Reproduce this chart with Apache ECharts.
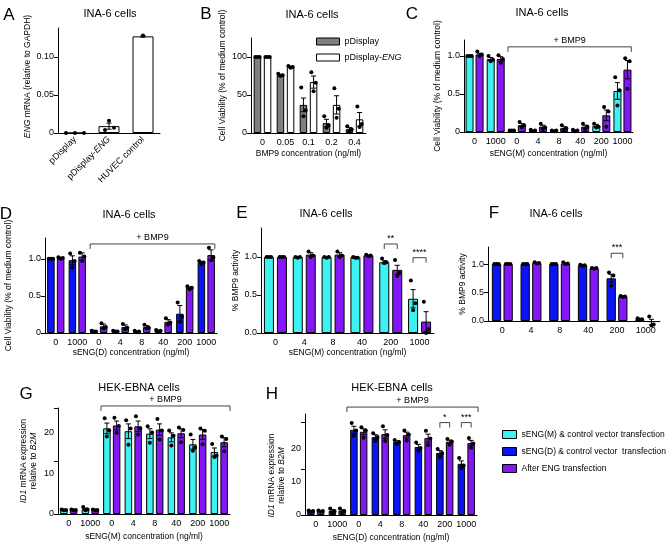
<!DOCTYPE html>
<html><head><meta charset="utf-8">
<script src="https://cdn.jsdelivr.net/npm/echarts@6/dist/echarts.min.js"></script>
<style>html,body{margin:0;padding:0;background:#fff}#c{width:668px;height:545px}</style>
</head><body><div id="c"></div>
<script>
// ---------------- DATA ----------------
// Panel A
const aCats = ['pDisplay', 'pDisplay-ENG', 'HUVEC control'];
const aMean = [0, 0.009, 0.127];
const aErr = [0, 0.004, 0.001];
const aDots = [[0, 0, 0], [0.016, 0.004, 0.007], [0.128]];
const aTicks = [0, 0.05, 0.10];
const aTickLabels = ['0', '0.05', '0.10'];
// Panel B
const bCats = ['0', '0.05', '0.1', '0.2', '0.4'];
const bPD = [100, 76, 37, 13, 5];
const bPDErr = [0.5, 1.2, 9, 5, 2];
const bPDDots = [[100, 100, 100], [78, 76, 75], [60, 30, 22], [22, 10, 7], [9, 5, 2]];
const bENG = [100, 87, 67, 37, 18];
const bENGErr = [0.5, 1, 8, 12, 9];
const bENGDots = [[100, 100, 100], [88, 87, 86], [80, 66, 55], [59, 32, 20], [35, 12, 8]];
const bTicks = [0, 50, 100];
const bTickLabels = ['0', '50', '100'];
// Panel C
const cCats = ['0', '1000', '0', '4', '8', '40', '200', '1000'];
const cCyan = [1.0, 0.96, 0.02, 0.02, 0.02, 0.02, 0.08, 0.54];
const cCyanErr = [0.005, 0.02, 0.005, 0.005, 0.005, 0.005, 0.02, 0.11];
const cCyanDots = [[1, 1, 1], [1.0, 0.95, 0.93], [0.02, 0.02, 0.02], [0.03, 0.02, 0.01], [0.02, 0.02, 0.01], [0.03, 0.02, 0.01], [0.11, 0.07, 0.06], [0.72, 0.55, 0.35]];
const cPurple = [1.02, 0.96, 0.09, 0.07, 0.05, 0.07, 0.22, 0.82];
const cPurpleErr = [0.015, 0.03, 0.02, 0.02, 0.02, 0.02, 0.07, 0.12];
const cPurpleDots = [[1.06, 1.02, 1.0], [1.01, 0.96, 0.91], [0.13, 0.09, 0.06], [0.11, 0.06, 0.04], [0.09, 0.05, 0.03], [0.11, 0.07, 0.04], [0.33, 0.27, 0.07], [0.97, 0.93, 0.57]];
const vTicks = [0, 0.5, 1.0];
const vTickLabels = ['0', '0.5', '1.0'];
// Panel D
const dCats = ['0', '1000', '0', '4', '8', '40', '200', '1000'];
const dBlue = [1.0, 0.98, 0.02, 0.02, 0.02, 0.03, 0.26, 0.95];
const dBlueErr = [0.005, 0.06, 0.005, 0.005, 0.005, 0.005, 0.11, 0.015];
const dBlueDots = [[1, 1, 1], [1.07, 0.97, 0.88], [0.03, 0.02, 0.02], [0.03, 0.02, 0.02], [0.03, 0.02, 0.01], [0.04, 0.03, 0.02], [0.41, 0.22, 0.15], [0.97, 0.95, 0.93]];
const dPurple = [1.01, 1.03, 0.09, 0.08, 0.08, 0.15, 0.61, 1.05];
const dPurpleErr = [0.01, 0.05, 0.03, 0.03, 0.02, 0.03, 0.01, 0.07];
const dPurpleDots = [[1.02, 1.01, 1.0], [1.08, 1.03, 0.97], [0.13, 0.08, 0.06], [0.12, 0.07, 0.05], [0.11, 0.07, 0.06], [0.2, 0.14, 0.11], [0.63, 0.61, 0.59], [1.15, 1.02, 0.98]];
// Panel E
const eCats = ['0', '4', '8', '40', '200', '1000'];
const eCyan = [1.0, 1.0, 1.0, 1.0, 0.93, 0.45];
const eCyanErr = [0.005, 0.005, 0.005, 0.005, 0.02, 0.12];
const eCyanDots = [[1, 1, 1], [1.0, 1.0, 0.99], [1.0, 1.0, 0.99], [1.0, 0.99, 0.99], [0.98, 0.93, 0.92], [0.69, 0.39, 0.30]];
const ePurple = [1.0, 1.03, 1.03, 1.02, 0.83, 0.15];
const ePurpleErr = [0.005, 0.025, 0.025, 0.005, 0.06, 0.13];
const ePurpleDots = [[1, 1, 1], [1.07, 1.02, 1.0], [1.07, 1.02, 1.0], [1.03, 1.02, 1.01], [0.96, 0.79, 0.75], [0.41, 0.05, 0.0]];
const eSigCats = [4, 5];
const eSigY = [1.17, 0.99];
const eSigText = ['**', '****'];
const pTicks = [0, 0.5, 1.0];
const pTickLabels = ['0.0', '0.5', '1.0'];
// Panel F
const fCats = ['0', '4', '8', '40', '200', '1000'];
const fBlue = [1.0, 1.0, 1.0, 0.98, 0.75, 0.03];
const fBlueErr = [0.005, 0.005, 0.005, 0.01, 0.07, 0.01];
const fBlueDots = [[1, 1, 1], [1, 1, 1], [1, 1, 1], [0.99, 0.98, 0.97], [0.85, 0.80, 0.62], [0.05, 0.03, 0.02]];
const fPurple = [1.0, 1.02, 1.01, 0.93, 0.43, -0.02];
const fPurpleErr = [0.005, 0.01, 0.01, 0.005, 0.01, 0.05];
const fPurpleDots = [[1, 1, 1], [1.03, 1.02, 1.01], [1.03, 1.01, 1.0], [0.93, 0.93, 0.92], [0.44, 0.43, 0.42], [0.08, -0.06, -0.08]];
const fSigCats = [4];
const fSigY = [1.19];
const fSigText = ['***'];
// Panel G
const gCats = ['0', '1000', '0', '4', '8', '40', '200', '1000'];
const gCyan = [1.0, 1.2, 21.0, 20.3, 19.7, 18.8, 17.1, 15.2];
const gCyanErr = [0.1, 0.25, 1.3, 1.8, 1.2, 1.1, 1.2, 1.0];
const gCyanDots = [[1.1, 1.0, 0.9], [1.7, 1.1, 0.9], [23.5, 20.5, 19.0], [23, 21, 17], [21.5, 20, 17.5], [20.5, 19.2, 16.8], [19.5, 16.3, 15.5], [17.2, 14.3, 14.0]];
const gPurple = [1.0, 1.0, 21.7, 21.5, 20.7, 19.8, 19.5, 17.6];
const gPurpleErr = [0.1, 0.1, 1.1, 1.3, 1.4, 1.1, 1.2, 1.1];
const gPurpleDots = [[1.1, 1.0, 0.9], [1.1, 1.0, 0.9], [23.6, 21.6, 19.9], [24, 21, 19.5], [23.3, 20.5, 18.3], [21.2, 20.6, 17.6], [21.0, 20.4, 17.1], [19.0, 18.4, 15.4]];
const gTicks = [0, 13, 26];
const gLabelVals = [0, 10, 20];
const gTickLabels = ['0', '10', '20'];
// Panel H
const hCats = ['0', '1000', '0', '4', '8', '40', '200', '1000'];
const hBlue = [1.2, 1.3, 25.8, 23.6, 22.1, 20.6, 18.8, 15.5];
const hBlueErr = [0.1, 0.3, 1.1, 0.7, 0.4, 0.8, 0.7, 0.9];
const hBlueDots = [[1.4, 1.2, 1.0], [2.0, 1.2, 0.8], [27.9, 25.6, 24.0], [24.8, 23.6, 22.4], [22.7, 22.1, 21.5], [22.0, 20.3, 19.5], [20.0, 18.8, 17.6], [17.3, 15.0, 14.2]];
const hPurple = [1.2, 1.3, 25.2, 24.5, 24.2, 23.3, 22.2, 21.8];
const hPurpleErr = [0.1, 0.3, 0.9, 1.3, 0.9, 1.2, 0.5, 0.8];
const hPurpleDots = [[1.4, 1.2, 1.0], [2.0, 1.2, 0.8], [26.6, 25.6, 23.4], [26.9, 24.2, 22.4], [25.6, 24.4, 22.6], [25.5, 23.2, 21.2], [23.0, 22.3, 21.3], [23.3, 21.7, 20.4]];
const hSigCats = [6, 7];
const hSigY = [28, 28];
const hSigText = ['*', '***'];
const hTicks = [0, 14, 28];
const hLabelVals = [0, 10, 20];
const hTickLabels = ['0', '10', '20'];

const NAME_M = 'sENG(M) & control vector transfection';
const NAME_D = 'sENG(D) & control vector  transfection';
const NAME_AFTER = 'After ENG transfection';

// ---------------- STYLE ----------------
const FONT = '"Liberation Sans", Arial, sans-serif';
const CYAN = '#3cf2f2', BLUE = '#0b14f8', PURPLE = '#8417f5', GRAY = '#7f7f7f', WHITE = '#ffffff';
const NAME_FS = 8.5;
const RICH = { i: { fontStyle: 'italic', fontFamily: FONT, fontSize: 9, color: '#000' } };
const RICH_N = { i: { fontStyle: 'italic', fontFamily: FONT, fontSize: NAME_FS, color: '#000' } };

const grids = [], xAxes = [], yAxes = [], series = [];

function errSeries(gi, vals, errs, dots, offset, jitter) {
  return {
    type: 'custom', xAxisIndex: gi, yAxisIndex: gi, clip: false, silent: true, z: 5,
    encode: { x: 0, y: 1 },
    data: vals.map((v, i) => [i, v, errs[i]]),
    renderItem(params, api) {
      const i = api.value(0), m = api.value(1), e = api.value(2);
      const c = api.coord([i, m]);
      const x = c[0] + offset;
      const ch = [];
      const ls = { stroke: '#000', lineWidth: 1 };
      if (e > 0) {
        const yt = api.coord([i, m + e])[1], yb = api.coord([i, m - e])[1];
        if (Math.abs(yb - yt) > 1.2) {
          ch.push({ type: 'line', shape: { x1: x, y1: yt, x2: x, y2: yb }, style: ls });
          ch.push({ type: 'line', shape: { x1: x - 2.5, y1: yt, x2: x + 2.5, y2: yt }, style: ls });
          ch.push({ type: 'line', shape: { x1: x - 2.5, y1: yb, x2: x + 2.5, y2: yb }, style: ls });
        }
      }
      const ds = dots[params.dataIndex];
      const jit = Array.isArray(jitter[0]) ? jitter[params.dataIndex] : jitter;
      ds.forEach((d, k) => {
        const y = api.coord([i, d])[1];
        ch.push({ type: 'circle', shape: { cx: x + jit[k % jit.length], cy: y, r: 2 }, style: { fill: '#000' } });
      });
      return { type: 'group', children: ch };
    }
  };
}

function bmpBracket(gi, from, to, yv, ext) {
  return {
    type: 'custom', xAxisIndex: gi, yAxisIndex: gi, clip: false, silent: true, z: 5,
    encode: { x: 0, y: 2 },
    data: [[from, to, yv]],
    renderItem(params, api) {
      const a = api.value(0), b = api.value(1), y = api.value(2);
      const bw = api.size([1, 0])[0];
      const p0 = api.coord([a, y]), p1 = api.coord([b, y]);
      const x0 = p0[0] - bw * ext, x1 = p1[0] + bw * ext, yy = p0[1];
      return { type: 'group', children: [
        { type: 'polyline', shape: { points: [[x0, yy + 5], [x0, yy], [x1, yy], [x1, yy + 5]] }, style: { stroke: '#444', lineWidth: 1, fill: 'none' } },
        { type: 'text', x: (x0 + x1) / 2, y: yy - 2, style: { text: '+ BMP9', font: '9px ' + FONT, fill: '#000', align: 'center', verticalAlign: 'bottom' } }
      ] };
    }
  };
}

function sigSeries(gi, cats, ys, texts, off) {
  return {
    type: 'custom', xAxisIndex: gi, yAxisIndex: gi, clip: false, silent: true, z: 5,
    encode: { x: 0, y: 1 },
    data: cats.map((c, k) => [c, ys[k]]),
    renderItem(params, api) {
      const p = api.coord([api.value(0), api.value(1)]);
      const x0 = p[0] - off, x1 = p[0] + off, yy = p[1];
      return { type: 'group', children: [
        { type: 'polyline', shape: { points: [[x0, yy + 5], [x0, yy], [x1, yy], [x1, yy + 5]] }, style: { stroke: '#444', lineWidth: 1, fill: 'none' } },
        { type: 'text', x: p[0], y: yy - 1, style: { text: texts[params.dataIndex], font: '9px ' + FONT, fill: '#000', align: 'center', verticalAlign: 'bottom' } }
      ] };
    }
  };
}

function addPanel(p) {
  const gi = grids.length;
  grids.push({ left: p.left, top: p.top, width: p.width, height: p.height });
  xAxes.push({
    type: 'category', gridIndex: gi, data: p.cats,
    name: p.xName || '', nameLocation: 'middle', nameGap: p.xNameGap || 16,
    nameTextStyle: { fontFamily: FONT, fontSize: NAME_FS, color: '#000' },
    axisLine: { onZero: true, lineStyle: { color: '#000', width: 1 } },
    axisTick: { alignWithLabel: true, length: 3, lineStyle: { color: '#000' } },
    axisLabel: { interval: 0, fontFamily: FONT, fontSize: 9, color: '#000', margin: 5, rotate: p.rotate || 0,
      formatter: p.xFormatter || (v => v), rich: RICH },
    splitLine: { show: false }
  });
  yAxes.push({
    type: 'value', gridIndex: gi, min: 0, max: p.max,
    name: p.yName, nameLocation: 'middle', nameRotate: 90, nameGap: p.yNameGap,
    nameTextStyle: { fontFamily: FONT, fontSize: NAME_FS, color: '#000', padding: p.yNamePad || 0, rich: RICH_N, lineHeight: 10.5 },
    axisLine: { show: true, lineStyle: { color: '#000', width: 1 } },
    axisTick: { show: true, length: 4, customValues: p.ticks, lineStyle: { color: '#000' } },
    axisLabel: { fontFamily: FONT, fontSize: 9, color: '#000', margin: 4, customValues: p.labelVals,
      formatter: v => { const k = p.labelVals.findIndex(t => Math.abs(t - v) < 1e-9); return k >= 0 ? p.labels[k] : ''; } },
    splitLine: { show: false }
  });
  const n = p.groups.length;
  const step = p.barWidth * (1 + p.barGap);
  p.groups.forEach((g) => {
    series.push({
      type: 'bar', name: g.name, xAxisIndex: gi, yAxisIndex: gi, data: g.vals,
      barWidth: p.barWidth, barGap: (p.barGap * 100) + '%', clip: false, silent: true, z: 2,
      itemStyle: { color: g.color, borderColor: '#000', borderWidth: 1 }
    });
  });
  p.groups.forEach((g, s) => {
    const off = (s - (n - 1) / 2) * step;
    series.push(errSeries(gi, g.vals, g.errs, g.dots, off, g.jitter || [-2.2, 2.2, 0]));
  });
  if (p.bracket) series.push(bmpBracket(gi, p.bracket[0], p.bracket[1], p.bracket[2], p.bracket[3]));
  if (p.sig) series.push(sigSeries(gi, p.sig[0], p.sig[1], p.sig[2], step / 2));
}

addPanel({ left: 58, top: 28, width: 102, height: 105, max: 0.138, cats: aCats, rotate: 45,
  xFormatter: v => v === 'pDisplay-ENG' ? 'pDisplay-{i|ENG}' : v,
  yName: '{i|ENG} mRNA (relative to GAPDH)', yNameGap: 24, yNamePad: [0, 0, 0, 8],
  ticks: aTicks, labelVals: aTicks, labels: aTickLabels, barWidth: 21, barGap: 0,
  groups: [{ name: 'A', vals: aMean, errs: aErr, dots: aDots, color: WHITE, jitter: [[-9, 0, 9], [0, -4, 5], [0]] }] });

addPanel({ left: 251, top: 38, width: 115, height: 95, max: 125, cats: bCats,
  xName: 'BMP9 concentration (ng/ml)', xNameGap: 16,
  yName: 'Cell Viability (% of medium control)', yNameGap: 22, yNamePad: [0, 0, 0, 20],
  ticks: bTicks, labelVals: bTicks, labels: bTickLabels, barWidth: 7.5, barGap: 0.35,
  groups: [{ name: 'pDisplay', vals: bPD, errs: bPDErr, dots: bPDDots, color: GRAY },
           { name: 'pDisplay-ENG', vals: bENG, errs: bENGErr, dots: bENGDots, color: WHITE }] });

addPanel({ left: 464, top: 40, width: 169, height: 92, max: 1.21, cats: cCats,
  xName: 'sENG(M) concentration (ng/ml)', xNameGap: 17,
  yName: 'Cell Viability (% of medium control)', yNameGap: 21,
  ticks: vTicks, labelVals: vTicks, labels: vTickLabels, barWidth: 8, barGap: 0.25,
  bracket: [2, 7, 1.12, 0.42],
  groups: [{ name: 'C1', vals: cCyan, errs: cCyanErr, dots: cCyanDots, color: CYAN },
           { name: 'C2', vals: cPurple, errs: cPurpleErr, dots: cPurpleDots, color: PURPLE }] });

addPanel({ left: 45, top: 238, width: 172, height: 95, max: 1.28, cats: dCats,
  xName: 'sENG(D) concentration (ng/ml)', xNameGap: 14,
  yName: 'Cell Viability (% of medium control)', yNameGap: 31,
  ticks: vTicks, labelVals: vTicks, labels: vTickLabels, barWidth: 7.5, barGap: 0.3,
  bracket: [2, 7, 1.2, 0.4],
  groups: [{ name: 'D1', vals: dBlue, errs: dBlueErr, dots: dBlueDots, color: BLUE },
           { name: 'D2', vals: dPurple, errs: dPurpleErr, dots: dPurpleDots, color: PURPLE }] });

addPanel({ left: 261, top: 228, width: 173, height: 105, max: 1.38, cats: eCats,
  xName: 'sENG(M) concentration (ng/ml)', xNameGap: 14,
  yName: '% BMP9 activity', yNameGap: 20,
  ticks: pTicks, labelVals: pTicks, labels: pTickLabels, barWidth: 10, barGap: 0.3,
  sig: [eSigCats, eSigY, eSigText],
  groups: [{ name: 'E1', vals: eCyan, errs: eCyanErr, dots: eCyanDots, color: CYAN },
           { name: 'E2', vals: ePurple, errs: ePurpleErr, dots: ePurpleDots, color: PURPLE }] });

addPanel({ left: 488, top: 247, width: 172, height: 74, max: 1.30, cats: fCats,
  yName: '% BMP9 activity', yNameGap: 20,
  ticks: pTicks, labelVals: pTicks, labels: pTickLabels, barWidth: 9.3, barGap: 0.25,
  sig: [fSigCats, fSigY, fSigText],
  groups: [{ name: 'F1', vals: fBlue, errs: fBlueErr, dots: fBlueDots, color: BLUE },
           { name: 'F2', vals: fPurple, errs: fPurpleErr, dots: fPurpleDots, color: PURPLE }] });

addPanel({ left: 58, top: 408, width: 172, height: 106, max: 26, cats: gCats,
  xName: 'sENG(M) concentration (ng/ml)', xNameGap: 18,
  yName: '{i|ID1} mRNA expression\nrelative to {i|B2M}', yNameGap: 19,
  ticks: gTicks, labelVals: gLabelVals, labels: gTickLabels, barWidth: 7.5, barGap: 0.3,
  bracket: [2, 7, 26.5, 0.5],
  groups: [{ name: NAME_M, vals: gCyan, errs: gCyanErr, dots: gCyanDots, color: CYAN },
           { name: NAME_AFTER, vals: gPurple, errs: gPurpleErr, dots: gPurpleDots, color: PURPLE }] });

addPanel({ left: 305, top: 414, width: 172, height: 101, max: 30.6, cats: hCats,
  xName: 'sENG(D) concentration (ng/ml)', xNameGap: 18,
  yName: '{i|ID1} mRNA expression\nrelative to {i|B2M}', yNameGap: 16, yNamePad: [0, 22, 0, 0],
  ticks: hTicks, labelVals: hLabelVals, labels: hTickLabels, barWidth: 7.5, barGap: 0.3,
  bracket: [2, 7, 32.7, 0.55],
  sig: [hSigCats, hSigY, hSigText],
  groups: [{ name: NAME_D, vals: hBlue, errs: hBlueErr, dots: hBlueDots, color: BLUE },
           { name: NAME_AFTER, vals: hPurple, errs: hPurpleErr, dots: hPurpleDots, color: PURPLE }] });

const titles = [
  ['INA-6 cells', 110, 14], ['INA-6 cells', 312, 15], ['INA-6 cells', 542, 13],
  ['INA-6 cells', 129, 215], ['INA-6 cells', 326, 214], ['INA-6 cells', 556, 214],
  ['HEK-EBNA cells', 139, 388], ['HEK-EBNA cells', 392, 388]
];
const letters = [['A', 9, 15], ['B', 206, 14], ['C', 412, 14], ['D', 6, 214], ['E', 242, 213], ['F', 494, 213], ['G', 26, 394], ['H', 272, 394]];
const graphics = [];
titles.forEach(t => graphics.push({ type: 'text', x: t[1], y: t[2], style: { text: t[0], font: '11px ' + FONT, fill: '#000', align: 'center', verticalAlign: 'middle' } }));
letters.forEach(t => graphics.push({ type: 'text', x: t[1], y: t[2], style: { text: t[0], font: '17px ' + FONT, fill: '#000', align: 'center', verticalAlign: 'middle' } }));

const chart = echarts.init(document.getElementById('c'), null, { renderer: 'canvas' });
chart.setOption({
  animation: false,
  backgroundColor: '#fff',
  grid: grids, xAxis: xAxes, yAxis: yAxes, series: series,
  graphic: graphics,
  legend: [
    { data: ['pDisplay', 'pDisplay-ENG'], left: 316, top: 37, padding: 0, orient: 'vertical', icon: 'rect',
      itemWidth: 23, itemHeight: 7, itemGap: 7, selectedMode: false,
      itemStyle: { borderColor: '#000', borderWidth: 1 },
      textStyle: { fontFamily: FONT, fontSize: 9, color: '#000', rich: RICH },
      formatter: n => n === 'pDisplay-ENG' ? 'pDisplay-{i|ENG}' : n },
    { data: [NAME_M, NAME_D, NAME_AFTER], left: 502, top: 430, padding: 0, orient: 'vertical', icon: 'rect',
      itemWidth: 14, itemHeight: 8, itemGap: 8, selectedMode: false,
      itemStyle: { borderColor: '#000', borderWidth: 1 },
      textStyle: { fontFamily: FONT, fontSize: 8.5, color: '#000' } }
  ]
});
</script></body></html>
